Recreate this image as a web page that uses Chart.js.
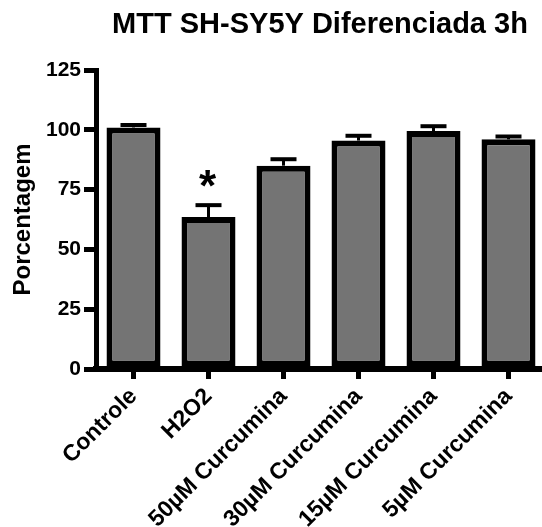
<!DOCTYPE html>
<html>
<head>
<meta charset="utf-8">
<script src="https://cdn.jsdelivr.net/npm/chart.js@4"></script>
<style>
  html, body { margin: 0; padding: 0; background: #fff; overflow: hidden; }
  #wrap { width: 546px; height: 527px; }
</style>
</head>
<body>
<div id="wrap"><canvas id="mttChart" width="546" height="527"></canvas></div>
<script>
// Dados
const categorias = ['Controle', 'H2O2', '50\u00b5M Curcumina', '30\u00b5M Curcumina', '15\u00b5M Curcumina', '5\u00b5M Curcumina'];
const porcentagem = [101, 63.5, 85, 95.5, 99.5, 96];
const erroPadrao = [1, 5, 2.7, 2, 2, 1.2];
const marcas = ['', '*', '', '', '', ''];
const yTicks = [0, 25, 50, 75, 100, 125];

const tituloTexto = 'MTT SH-SY5Y Diferenciada 3h';
const eixoYTexto = 'Porcentagem';
const fonte = "'Liberation Sans', Arial, sans-serif";

// Barras de erro, asterisco e títulos
const extras = {
  id: 'extras',
  afterDatasetsDraw(chart) {
    const ctx = chart.ctx;
    const y = chart.scales.y;
    const meta = chart.getDatasetMeta(0);
    ctx.save();
    ctx.strokeStyle = '#000';
    meta.data.forEach((bar, i) => {
      const topo = y.getPixelForValue(porcentagem[i] + erroPadrao[i]);
      ctx.lineWidth = 3;
      ctx.beginPath();
      ctx.moveTo(bar.x, bar.y);
      ctx.lineTo(bar.x, topo);
      ctx.stroke();
      ctx.lineWidth = 4;
      ctx.beginPath();
      ctx.moveTo(bar.x - 13, topo);
      ctx.lineTo(bar.x + 13, topo);
      ctx.stroke();
      if (marcas[i]) {
        ctx.fillStyle = '#000';
        ctx.font = 'bold 44px ' + fonte;
        ctx.textAlign = 'center';
        ctx.textBaseline = 'alphabetic';
        ctx.fillText(marcas[i], bar.x - 1, topo - 29 + 0.57 * 44);
      }
    });
    ctx.restore();
  },
  afterDraw(chart) {
    const ctx = chart.ctx;
    const area = chart.chartArea;
    ctx.save();
    ctx.fillStyle = '#000';
    ctx.textAlign = 'center';
    ctx.textBaseline = 'alphabetic';
    ctx.font = 'bold 29px ' + fonte;
    ctx.fillText(tituloTexto, (area.left + area.right) / 2 - 1, 33);
    ctx.translate(30, (area.top + area.bottom) / 2);
    ctx.rotate(-Math.PI / 2);
    ctx.font = 'bold 24px ' + fonte;
    ctx.fillText(eixoYTexto, 0, 0);
    ctx.restore();
  }
};

const ctx = document.getElementById('mttChart').getContext('2d');
const mttChart = new Chart(ctx, {
  type: 'bar',
  data: {
    labels: categorias,
    datasets: [{
      data: porcentagem,
      backgroundColor: '#747474',
      borderColor: '#000',
      borderWidth: 6,
      borderSkipped: false,
      barPercentage: 0.72,
      categoryPercentage: 1
    }]
  },
  options: {
    responsive: false,
    animation: false,
    devicePixelRatio: 1,
    layout: { padding: { top: 70, left: 0, right: 0, bottom: 0 } },
    plugins: {
      legend: { display: false },
      title: { display: false },
      tooltip: { enabled: false }
    },
    scales: {
      x: {
        offset: true,
        border: { color: '#000', width: 6 },
        grid: { display: true, drawOnChartArea: false, offset: false, color: '#000', lineWidth: 5, tickLength: 10 },
        ticks: {
          autoSkip: false,
          maxRotation: 45,
          minRotation: 45,
          padding: 4,
          color: '#000',
          font: { family: fonte, size: 23, weight: 'bold' }
        },
        afterFit(scale) { scale.height = 158; }
      },
      y: {
        min: 0,
        max: 125,
        afterBuildTicks(scale) { scale.ticks = yTicks.map(v => ({ value: v })); },
        border: { color: '#000', width: 5 },
        grid: { display: true, drawOnChartArea: false, color: '#000', lineWidth: 5, tickLength: 12 },
        ticks: {
          padding: 3,
          color: '#000',
          font: { family: fonte, size: 21, weight: 'bold' }
        },
        afterFit(scale) { scale.width = 96; }
      }
    }
  },
  plugins: [extras]
});
</script>
</body>
</html>
